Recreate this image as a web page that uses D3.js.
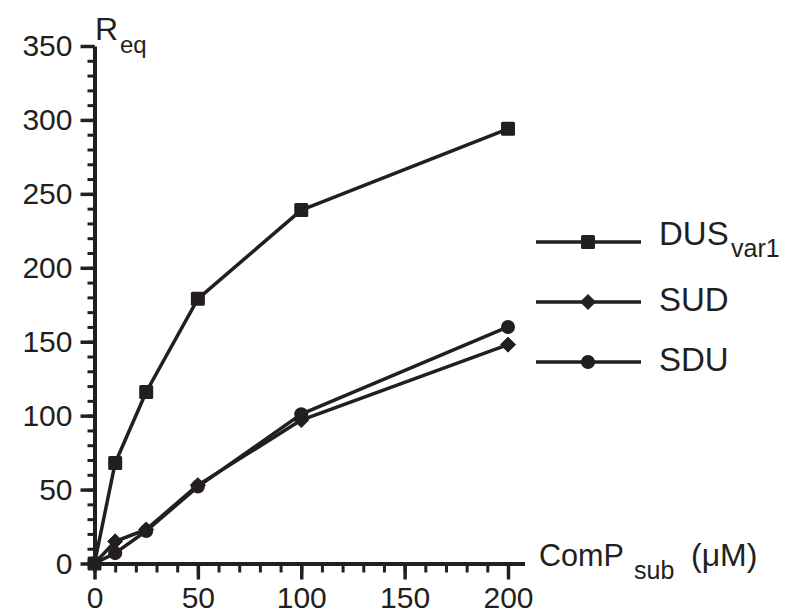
<!DOCTYPE html>
<html>
<head>
<meta charset="utf-8">
<script src="https://cdn.jsdelivr.net/npm/d3@7"></script>
<style>
  body { margin: 0; background: #fff; }
  svg { display: block; font-family: "Liberation Sans", Arial, Helvetica, sans-serif; }
</style>
</head>
<body>
<svg id="chart" width="785" height="611"></svg>
<script>
// ---- data ----
const concentrations = [0, 10, 25, 50, 100, 200];
const seriesNames = ["DUSvar1", "SUD", "SDU"];
const dusVar1 = [0, 68, 116, 179, 239, 294];
const sud = [0, 15, 23, 53, 97, 148];
const sdu = [0, 7, 22, 52, 101, 160];
const xTickValues = [0, 50, 100, 150, 200];
const yTickValues = [0, 50, 100, 150, 200, 250, 300, 350];
const xMinorTicks = d3.range(0, 201, 10);
const yMinorTicks = d3.range(0, 351, 10);

const ink = "#231f20";
const svg = d3.select("#chart");

const x = d3.scaleLinear().domain([0, 208]).range([94.5, 94.5 + 208 * 2.0675]);
const y = d3.scaleLinear().domain([0, 350]).range([563.5, 46]);

// minor ticks
svg.append("g")
  .attr("transform", `translate(${x(0)},0)`)
  .call(d3.axisLeft(y).tickValues(yMinorTicks).tickSize(7).tickFormat(""))
  .call(g => g.select(".domain").remove())
  .call(g => g.selectAll("line").attr("stroke", ink).attr("stroke-width", 3));
svg.append("g")
  .attr("transform", `translate(0,${y(0)})`)
  .call(d3.axisBottom(x).tickValues(xMinorTicks).tickSize(9).tickFormat(""))
  .call(g => g.select(".domain").remove())
  .call(g => g.selectAll("line").attr("stroke", ink).attr("stroke-width", 3));

// major axes
const yAxis = svg.append("g")
  .attr("transform", `translate(${x(0)},0)`)
  .call(d3.axisLeft(y).tickValues(yTickValues).tickSize(14).tickSizeOuter(0).tickPadding(8));
const xAxis = svg.append("g")
  .attr("transform", `translate(0,${y(0)})`)
  .call(d3.axisBottom(x).tickValues(xTickValues).tickSize(16).tickSizeOuter(0).tickPadding(7));

[yAxis, xAxis].forEach(g => {
  g.select(".domain").attr("stroke", ink).attr("stroke-width", 4);
  g.selectAll(".tick line").attr("stroke", ink).attr("stroke-width", 3.5);
  g.selectAll(".tick text").attr("fill", ink).attr("font-size", 30)
    .attr("font-family", "Liberation Sans, Arial, sans-serif");
});

// series
const series = [
  { name: seriesNames[0], values: dusVar1, marker: "square" },
  { name: seriesNames[1], values: sud, marker: "diamond" },
  { name: seriesNames[2], values: sdu, marker: "circle" }
];
const line = d3.line().x(d => x(d[0])).y(d => y(d[1]));

function drawMarker(g, type, cx, cy) {
  if (type === "square") {
    g.append("rect").attr("x", cx - 7).attr("y", cy - 7).attr("width", 14).attr("height", 14)
      .attr("rx", 1.5).attr("fill", ink);
  } else if (type === "diamond") {
    g.append("path").attr("d", `M${cx},${cy - 7.5}L${cx + 7.5},${cy}L${cx},${cy + 7.5}L${cx - 7.5},${cy}Z`)
      .attr("fill", ink).attr("stroke", ink).attr("stroke-width", 1).attr("stroke-linejoin", "round");
  } else {
    g.append("circle").attr("cx", cx).attr("cy", cy).attr("r", 7).attr("fill", ink);
  }
}

series.forEach(s => {
  const pts = concentrations.map((c, i) => [c, s.values[i]]);
  svg.append("path").datum(pts).attr("d", line)
    .attr("fill", "none").attr("stroke", ink).attr("stroke-width", 3.5).attr("stroke-linejoin", "round");
  const mg = svg.append("g");
  pts.forEach(p => drawMarker(mg, s.marker, x(p[0]), y(p[1])));
});

// axis titles
svg.append("text").attr("x", 95).attr("y", 40).attr("fill", ink).attr("font-size", 32).text("R");
svg.append("text").attr("x", 120).attr("y", 53).attr("fill", ink).attr("font-size", 24).text("eq");

svg.append("text").attr("x", 539).attr("y", 566).attr("fill", ink).attr("font-size", 32)
  .attr("textLength", 85).attr("lengthAdjust", "spacingAndGlyphs").text("ComP");
svg.append("text").attr("x", 634).attr("y", 579).attr("fill", ink).attr("font-size", 25).text("sub");
svg.append("text").attr("x", 691).attr("y", 566).attr("fill", ink).attr("font-size", 32).text("(μM)");

// legend
const legendRows = [
  { main: "DUS", sub: "var1", marker: "square", y: 242, base: 245 },
  { main: "SUD", sub: "", marker: "diamond", y: 302, base: 311 },
  { main: "SDU", sub: "", marker: "circle", y: 362, base: 371 }
];
legendRows.forEach(r => {
  const g = svg.append("g");
  g.append("line").attr("x1", 536).attr("x2", 641).attr("y1", r.y).attr("y2", r.y)
    .attr("stroke", ink).attr("stroke-width", 3.5);
  drawMarker(g, r.marker, 588, r.y);
  g.append("text").attr("x", 659).attr("y", r.base).attr("fill", ink).attr("font-size", 33).text(r.main);
  if (r.sub) g.append("text").attr("x", 731).attr("y", 257).attr("fill", ink).attr("font-size", 25).text(r.sub);
});
</script>
</body>
</html>
